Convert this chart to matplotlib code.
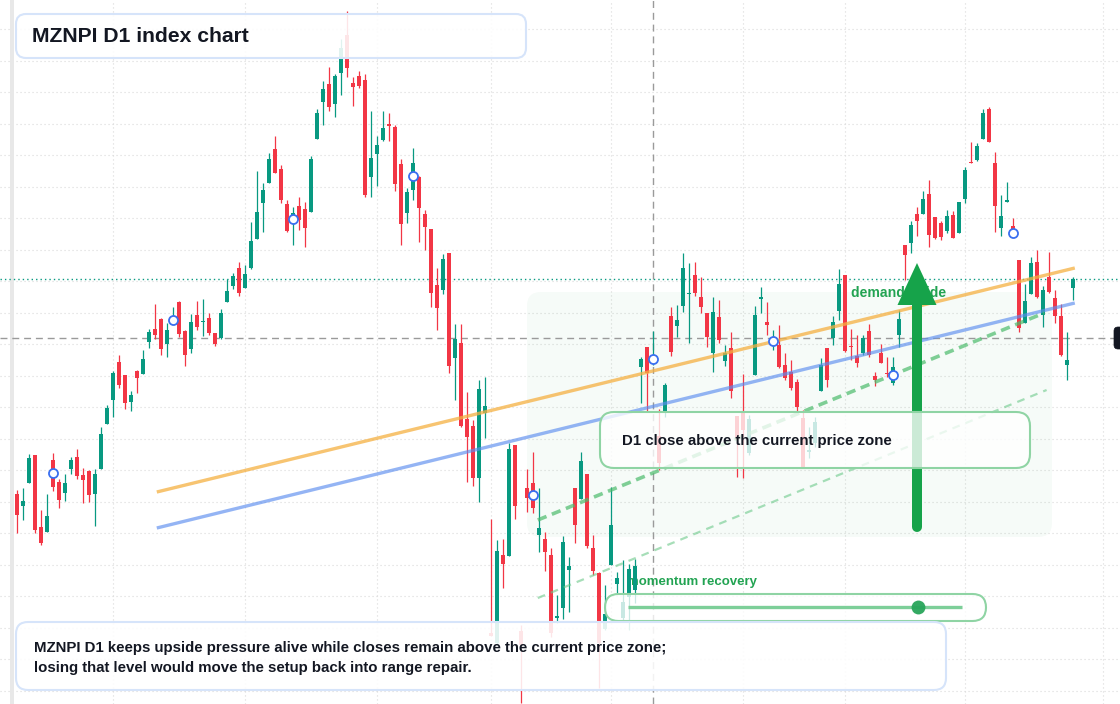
import numpy as np
import matplotlib
matplotlib.use("Agg")
import matplotlib.pyplot as plt
from matplotlib.patches import FancyBboxPatch, Polygon, Rectangle

W, H = 1120, 704

# daily candles of the MZNPI index (oldest first)
opens = [22.8, 21.6, 23.9, 26.7, 19.5, 19.0, 26.2, 24.0, 22.9, 25.3,
         26.5, 24.7, 25.1, 22.8, 25.3, 29.8, 32.2, 36.0, 34.7, 32.0,
         35.1, 34.8, 38.0, 39.3, 40.3, 37.8, 40.2, 42.0, 39.1, 37.3,
         40.7, 40.0, 40.4, 38.9, 38.4, 42.0, 43.6, 45.4, 43.4, 45.4,
         48.3, 51.9, 53.9, 57.3, 55.3, 51.8, 50.2, 51.6, 51.3, 51.0,
         58.3, 62.0, 63.8, 61.8, 64.9, 68.7, 63.9, 64.6, 64.2, 54.5,
         56.8, 58.2, 59.8, 59.5, 55.8, 50.9, 53.2, 54.5, 50.8, 49.3,
         43.7, 43.2, 46.9, 36.4, 37.9, 30.3, 29.6, 24.4, 30.9, 8.9,
         7.9, 16.7, 16.6, 27.7, 9.1, 23.4, 23.9, 18.7, 18.3, 16.7,
         10.4, 11.4, 15.2, 23.4, 22.3, 24.8, 17.4, 14.9, 9.3, 15.7,
         13.8, 10.4, 12.5, 13.2, 35.5, 37.5, 36.1, 28.6, 31.0, 40.6,
         39.6, 41.6, 42.8, 44.7, 42.5, 40.9, 36.9, 40.5, 36.1, 37.4,
         30.6, 31.0, 26.9, 34.7, 42.3, 40.0, 38.0, 37.7, 35.7, 35.0,
         34.0, 30.4, 27.0, 27.9, 33.1, 37.4, 38.4, 41.1, 44.7, 37.6,
         36.6, 36.9, 39.1, 34.6, 36.9, 34.9, 33.9, 38.7, 47.7, 47.9,
         50.8, 50.8, 52.8, 50.5, 49.9, 49.1, 50.7, 48.9, 52.3, 56.0,
         56.2, 58.3, 61.3, 55.9, 49.4, 52.0, 49.6, 46.2, 39.9, 42.8,
         46.0, 40.7, 44.5, 42.4, 40.6, 35.7, 43.4]
highs = [23.2, 23.4, 26.8, 26.7, 21.2, 22.8, 26.9, 24.3, 24.8, 26.5,
         27.3, 25.4, 25.2, 25.3, 29.5, 31.7, 35.1, 36.7, 34.7, 33.1,
         35.2, 37.2, 39.3, 41.8, 40.4, 39.9, 41.5, 42.1, 39.2, 40.8,
         42.1, 42.3, 40.9, 38.9, 41.3, 44.3, 44.9, 46.0, 45.7, 50.0,
         55.1, 53.9, 56.9, 58.6, 55.7, 52.2, 51.5, 52.5, 52.0, 56.6,
         61.3, 64.1, 65.5, 64.8, 68.3, 71.1, 64.5, 65.1, 64.8, 61.1,
         58.6, 61.1, 60.9, 59.7, 56.3, 53.4, 57.4, 54.6, 51.2, 49.3,
         45.4, 46.8, 46.9, 39.8, 39.8, 33.0, 30.2, 34.2, 34.5, 20.3,
         18.2, 18.3, 27.9, 27.7, 9.7, 25.3, 27.0, 23.4, 19.0, 17.4,
         12.7, 18.6, 16.5, 23.4, 27.0, 24.8, 18.7, 15.0, 13.7, 23.5,
         15.0, 16.2, 15.8, 16.3, 36.5, 37.5, 39.1, 31.3, 33.9, 41.5,
         41.7, 46.9, 45.9, 46.0, 44.5, 40.9, 42.5, 42.2, 37.7, 39.0,
         30.6, 34.8, 30.7, 41.6, 43.5, 42.0, 39.2, 39.7, 36.9, 36.2,
         34.3, 31.2, 29.5, 30.5, 36.4, 37.4, 40.6, 45.3, 44.7, 39.3,
         38.7, 38.7, 39.8, 35.0, 37.8, 36.5, 36.5, 41.2, 47.7, 50.1,
         51.5, 53.1, 54.2, 50.5, 50.1, 51.2, 51.1, 52.0, 55.5, 58.0,
         57.9, 61.3, 61.5, 57.0, 52.7, 54.0, 50.4, 46.2, 43.8, 46.5,
         47.2, 43.6, 47.0, 43.2, 41.8, 39.0, 44.5]
lows = [18.9, 20.2, 23.9, 18.9, 17.7, 19.0, 23.1, 21.4, 22.1, 24.8,
        24.3, 21.9, 22.0, 19.6, 25.3, 29.8, 30.5, 33.4, 31.3, 31.1,
        32.9, 34.8, 37.4, 38.3, 36.7, 36.5, 39.9, 38.5, 35.6, 36.9,
        39.2, 38.6, 38.7, 37.6, 38.3, 42.0, 43.3, 42.6, 43.4, 45.3,
        48.3, 49.0, 53.9, 54.9, 51.9, 49.0, 47.7, 49.2, 47.5, 51.0,
        58.3, 59.7, 61.1, 60.5, 62.7, 64.5, 61.6, 63.4, 52.5, 52.5,
        53.6, 58.1, 58.1, 53.1, 47.7, 49.9, 52.2, 48.0, 47.2, 41.5,
        39.2, 42.8, 34.9, 32.2, 29.5, 24.0, 23.6, 22.0, 28.4, 8.6,
        7.7, 13.4, 16.6, 20.3, 1.9, 21.0, 20.9, 17.0, 15.1, 8.5,
        9.9, 10.3, 11.0, 17.9, 22.3, 17.4, 14.7, 3.4, 9.2, 15.7,
        12.9, 10.0, 9.2, 11.9, 31.9, 31.0, 35.7, 25.2, 30.5, 36.6,
        38.5, 41.0, 37.9, 42.6, 40.9, 37.5, 35.0, 37.9, 35.6, 32.4,
        24.5, 24.4, 26.7, 34.7, 40.9, 38.7, 37.2, 35.4, 34.2, 33.2,
        31.0, 25.5, 26.4, 27.5, 33.1, 33.5, 37.7, 40.2, 37.0, 36.2,
        35.5, 36.7, 36.5, 33.6, 35.9, 34.5, 33.7, 37.5, 44.2, 46.9,
        48.6, 50.8, 47.5, 48.3, 48.2, 48.9, 48.4, 48.9, 51.9, 55.9,
        56.1, 58.3, 58.0, 49.0, 48.6, 52.0, 48.6, 39.0, 39.9, 42.8,
        42.4, 39.5, 42.9, 39.9, 36.6, 34.2, 42.2]
closes = [20.7, 22.1, 26.4, 19.2, 17.9, 20.6, 23.5, 22.2, 23.9, 26.2,
          24.6, 24.2, 22.7, 24.8, 28.8, 31.4, 34.9, 33.7, 31.9, 32.7,
          34.4, 36.3, 39.0, 38.7, 37.3, 39.2, 40.6, 38.8, 36.7, 40.0,
          39.5, 40.1, 38.9, 37.8, 40.9, 43.1, 44.6, 42.9, 44.8, 48.1,
          51.0, 53.2, 56.3, 54.9, 52.2, 49.1, 50.9, 50.2, 49.4, 56.3,
          60.9, 63.3, 61.5, 64.6, 67.4, 65.4, 63.5, 63.6, 52.7, 56.4,
          57.7, 59.4, 59.6, 53.8, 49.8, 53.0, 55.9, 51.4, 49.5, 42.9,
          41.4, 46.3, 35.6, 38.3, 29.6, 28.5, 24.4, 33.3, 31.6, 8.6,
          17.1, 15.8, 27.3, 21.6, 7.7, 22.4, 21.4, 19.4, 17.0, 8.9,
          10.6, 18.0, 15.6, 19.7, 26.1, 17.6, 15.1, 7.9, 10.8, 19.7,
          14.4, 12.0, 15.3, 15.6, 36.3, 34.9, 36.7, 25.9, 33.7, 37.0,
          40.2, 45.4, 42.9, 42.9, 41.5, 38.5, 41.0, 38.2, 36.9, 33.1,
          28.2, 29.2, 30.3, 40.7, 42.5, 39.7, 38.4, 35.5, 34.4, 33.4,
          31.5, 25.5, 27.2, 30.0, 35.7, 34.2, 40.0, 43.8, 37.1, 37.5,
          35.9, 38.4, 36.7, 34.2, 35.9, 34.8, 35.5, 40.3, 46.7, 49.7,
          50.1, 52.3, 48.7, 48.4, 48.5, 50.6, 48.4, 52.0, 55.2, 55.9,
          57.6, 60.9, 58.0, 51.6, 50.6, 52.2, 49.3, 39.4, 42.1, 45.9,
          42.5, 43.2, 43.0, 40.6, 36.7, 36.2, 44.3]

# signal markers every 20 sessions
marker_idx = [6, 26, 46, 66, 86, 106, 126, 146, 166]
marker_price = [24.9, 40.2, 50.3, 54.6, 22.7, 36.3, 38.1, 34.7, 48.9]

# first session of each month (time-axis grid)
month_starts = [16, 38, 60, 79, 99, 121, 138, 158, 181]

# guide lines
upper_guide_x = [23.3, 176.3]
upper_guide_y = [23.0, 45.4]
lower_guide_x = [23.3, 176.3]
lower_guide_y = [19.4, 41.9]
channel_top_x = [86.8, 171.2]
channel_top_y = [20.2, 40.9]
channel_bot_x = [86.8, 171.6]
channel_bot_y = [12.4, 33.2]
zone_x = [85.0, 172.5]
zone_y = [18.5, 43.0]
arrow_x = 150
arrow_y = [19.5, 45.9]
crosshair_idx = 106
crosshair_price = 38.4

GREEN = "#089981"
RED = "#f23645"
INK = "#131722"
SIGNAL = "#22a352"
FONT = ["Liberation Sans", "DejaVu Sans"]

fig = plt.figure(figsize=(W / 100, H / 100), dpi=100)
ax = fig.add_axes([0, 0, 1, 1])
ax.set_xlim(-17 / 6, (W - 17) / 6)
ax.set_ylim(1.8, 72.2)
ax.axis("off")


def px(x, y):
    return x / W, 1 - y / H


def panel(x0, y0, x1, y1, r, fc, ec, alpha, z, lw=1.5):
    box = FancyBboxPatch((x0 / W, 1 - y1 / H), (x1 - x0) / W, (y1 - y0) / H,
                         boxstyle=f"round,pad=0,rounding_size={r / W}",
                         mutation_aspect=W / H, transform=ax.transAxes,
                         facecolor=fc, edgecolor="none", alpha=alpha, zorder=z)
    ax.add_patch(box)
    edge = FancyBboxPatch((x0 / W, 1 - y1 / H), (x1 - x0) / W, (y1 - y0) / H,
                          boxstyle=f"round,pad=0,rounding_size={r / W}",
                          mutation_aspect=W / H, transform=ax.transAxes,
                          facecolor="none", edgecolor=ec, lw=lw, zorder=z + 0.1)
    ax.add_patch(edge)


def label(x, y, s, size, color=INK, z=7):
    ax.text(*px(x, y), s, transform=ax.transAxes, color=color, fontsize=size,
            fontweight="bold", va="center", ha="left", family=FONT, zorder=z)


# grid
for k in range(1, 23):
    ax.axhline(3.15 * k, color="#dadada", lw=0.8, ls=(0, (1, 2.6)), zorder=0.5)
for m in month_starts:
    ax.axvline(m, color="#dadada", lw=0.8, ls=(0, (1, 2.6)), zorder=0.5)

# left edge strip
ax.add_patch(Rectangle(px(10, 704), 4 / W, 1, transform=ax.transAxes,
                       facecolor="#e8e8e8", edgecolor="none", zorder=0.6))

# shaded demand zone
zone = FancyBboxPatch((zone_x[0], zone_y[0]), zone_x[1] - zone_x[0], zone_y[1] - zone_y[0],
                      boxstyle="round,pad=0,rounding_size=2.3", mutation_aspect=0.6,
                      facecolor=SIGNAL, edgecolor="none", alpha=0.04, zorder=1)
ax.add_patch(zone)

# crosshair + last price
ax.axvline(crosshair_idx, color="#9a9a9a", lw=1, ls=(0, (5, 3.5)), zorder=1.5)
ax.axhline(crosshair_price, color="#9a9a9a", lw=1, ls=(0, (5, 3.5)), zorder=1.5)
ax.axhline(closes[-1], color=GREEN, lw=1, ls=(0, (1, 2.2)), zorder=1.5)

# labels sitting under the candles
label(851, 293, "demand guide", 10.1, SIGNAL, 1.8)
label(627, 582, "momentum recovery", 9.5, SIGNAL, 1.8)

# candles
x = np.arange(len(opens))
o = np.array(opens)
c = np.array(closes)
colors = np.where(c >= o, GREEN, RED)
ax.vlines(x, lows, highs, colors=colors, lw=0.9, zorder=2)
ax.bar(x, np.maximum(np.abs(c - o), 0.12), bottom=np.minimum(o, c), width=0.78,
       color=colors, lw=0, zorder=3)

# guide lines
ax.plot(upper_guide_x, upper_guide_y, color="#f5b041", lw=2.4, alpha=0.75,
        solid_capstyle="butt", zorder=4)
ax.plot(lower_guide_x, lower_guide_y, color="#5b8def", lw=2.4, alpha=0.65,
        solid_capstyle="butt", zorder=4)
ax.plot(channel_top_x, channel_top_y, color="#4cbb6c", lw=2.6, alpha=0.7,
        dashes=(2.6, 1.6), zorder=4)
ax.plot(channel_bot_x, channel_bot_y, color="#6cc98a", lw=1.6, alpha=0.6,
        dashes=(3.5, 2.8), zorder=4)

# arrow
ax.plot([arrow_x, arrow_x], [arrow_y[0], arrow_y[1] - 4.0], color="#16a34a", lw=7.2,
        solid_capstyle="round", zorder=4.5)
ax.add_patch(Polygon([[arrow_x - 3.25, arrow_y[1] - 4.2], [arrow_x + 3.25, arrow_y[1] - 4.2],
                      [arrow_x, arrow_y[1]]], closed=True, facecolor="#16a34a",
                     edgecolor="none", zorder=4.5))

# signal markers
ax.plot(marker_idx, marker_price, ls="none", marker="o", ms=6.5, mfc="white",
        mec="#3a6ff0", mew=1.3, zorder=5)

# panels
panel(16, 14, 526, 58, 10, "white", "#d6e4fa", 0.88, 6)
label(32, 36, "MZNPI D1 index chart", 15.2)

panel(600, 412, 1030, 468, 14, "white", "#8fd4a4", 0.78, 6)
label(622, 441, "D1 close above the current price zone", 10.8)

panel(605, 594, 986, 621, 13.5, "white", "#8fd4a4", 0.78, 6)
ax.plot([628 / W, 962 / W], [1 - 607 / H, 1 - 607 / H], transform=ax.transAxes,
        color="#7dcf99", lw=2.4, solid_capstyle="butt", zorder=7)
ax.plot([918 / W], [1 - 607 / H], transform=ax.transAxes, marker="o", ms=10,
        color="#28a55a", mec="none", alpha=0.95, zorder=7.2)

panel(16, 622, 946, 690, 12, "white", "#d6e4fa", 0.88, 6)
label(34, 648, "MZNPI D1 keeps upside pressure alive while closes remain above the current price zone;", 10.8)
label(34, 668, "losing that level would move the setup back into range repair.", 10.8)

# price label peeking in at the right edge
panel(1114, 327, 1140, 349, 4, INK, INK, 1.0, 6, lw=0.5)

fig.savefig("out.png", dpi=100)
